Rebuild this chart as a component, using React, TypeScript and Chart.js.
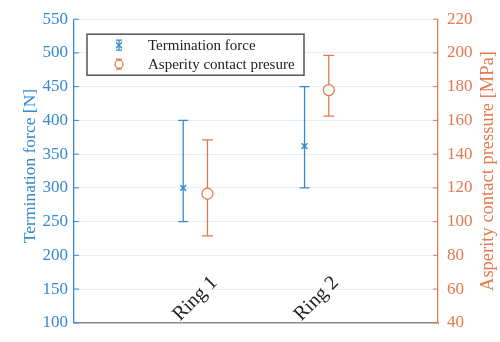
import React, { useEffect, useRef } from "react";
import { Chart, registerables } from "chart.js";

Chart.register(...registerables);

const categories = ["Ring 1", "Ring 2"];
const forceMean = [300, 362];
const forceLow = [250, 300];
const forceHigh = [400, 450];
const pressureMean = [116.5, 178];
const pressureLow = [91.5, 162.5];
const pressureHigh = [148.5, 198.5];

const BLUE = "#3589cf";
const ORANGE = "#e4794f";
const FONT = "'Liberation Serif', 'Times New Roman', serif";

const errorBarPlugin = {
  id: "errorBars",
  afterDatasetsDraw(chart: any) {
    const ctx = chart.ctx;
    chart.data.datasets.forEach((ds: any) => {
      const ys = chart.scales[ds.yAxisID];
      const xs = chart.scales.x;
      ds.data.forEach((pt: any, i: number) => {
        const x = xs.getPixelForValue(pt.x);
        const yl = ys.getPixelForValue(ds.errLow[i]);
        const yh = ys.getPixelForValue(ds.errHigh[i]);
        const yc = ys.getPixelForValue(pt.y);
        const r = ds.capHalf;
        ctx.save();
        ctx.strokeStyle = ds.borderColor;
        ctx.lineWidth = 1.3;
        ctx.beginPath();
        const gap = ds.pointStyle === "circle" ? ds.pointRadius : 0;
        ctx.moveTo(x, yh);
        ctx.lineTo(x, yc - gap);
        ctx.moveTo(x, yc + gap);
        ctx.lineTo(x, yl);
        ctx.moveTo(x - r, yh);
        ctx.lineTo(x + r, yh);
        ctx.moveTo(x - r, yl);
        ctx.lineTo(x + r, yl);
        ctx.stroke();
        ctx.restore();
      });
    });
  },
};

const decorPlugin = {
  id: "decor",
  afterDraw(chart: any) {
    const ctx = chart.ctx;
    const area = chart.chartArea;
    const y = chart.scales.y;
    const y1 = chart.scales.y1;
    const xs = chart.scales.x;
    ctx.save();
    // inward ticks
    ctx.lineWidth = 1;
    ctx.strokeStyle = BLUE;
    y.ticks.forEach((t: any) => {
      const py = y.getPixelForValue(t.value);
      ctx.beginPath();
      ctx.moveTo(area.left, py);
      ctx.lineTo(area.left + 5, py);
      ctx.stroke();
    });
    ctx.strokeStyle = ORANGE;
    y1.ticks.forEach((t: any) => {
      const py = y1.getPixelForValue(t.value);
      ctx.beginPath();
      ctx.moveTo(area.right, py);
      ctx.lineTo(area.right - 5, py);
      ctx.stroke();
    });
    // category labels inside plot
    ctx.fillStyle = "#222";
    ctx.font = `20px ${FONT}`;
    ctx.textAlign = "center";
    ctx.textBaseline = "middle";
    categories.forEach((c, i) => {
      const px = xs.getPixelForValue(i + 1);
      ctx.save();
      ctx.translate(px, area.bottom - 24);
      ctx.rotate(-Math.PI / 4);
      ctx.fillText(c, 0, 0);
      ctx.restore();
    });
    // axis titles
    ctx.font = `17.5px ${FONT}`;
    ctx.fillStyle = BLUE;
    ctx.save();
    ctx.translate(30, (area.top + area.bottom) / 2 - 5);
    ctx.rotate(-Math.PI / 2);
    ctx.fillText("Termination force [N]", 0, 0);
    ctx.restore();
    ctx.font = `18.5px ${FONT}`;
    ctx.fillStyle = ORANGE;
    ctx.save();
    ctx.translate(488, (area.top + area.bottom) / 2);
    ctx.rotate(-Math.PI / 2);
    ctx.fillText("Asperity contact pressure [MPa]", 0, 0);
    ctx.restore();
    // legend
    const bx = area.left + 13;
    const by = area.top + 15;
    const bw = 217;
    const bh = 41;
    ctx.fillStyle = "#fff";
    ctx.fillRect(bx, by, bw, bh);
    ctx.strokeStyle = "#555";
    ctx.lineWidth = 1.5;
    ctx.strokeRect(bx, by, bw, bh);
    ctx.font = `15px ${FONT}`;
    ctx.textAlign = "left";
    ctx.fillStyle = "#222";
    chart.data.datasets.forEach((ds: any, di: number) => {
      const cy = by + 11 + di * 19;
      const sx = bx + 32;
      ctx.strokeStyle = ds.borderColor;
      ctx.lineWidth = 1.3;
      ctx.beginPath();
      ctx.moveTo(sx, cy - 5);
      ctx.lineTo(sx, cy + 5);
      ctx.moveTo(sx - 3, cy - 5);
      ctx.lineTo(sx + 3, cy - 5);
      ctx.moveTo(sx - 3, cy + 5);
      ctx.lineTo(sx + 3, cy + 5);
      ctx.stroke();
      if (ds.pointStyle === "circle") {
        ctx.fillStyle = "#fff";
        ctx.beginPath();
        ctx.arc(sx, cy, 4, 0, Math.PI * 2);
        ctx.fill();
        ctx.stroke();
      } else {
        ctx.beginPath();
        ctx.moveTo(sx - 3, cy - 3);
        ctx.lineTo(sx + 3, cy + 3);
        ctx.moveTo(sx + 3, cy - 3);
        ctx.lineTo(sx - 3, cy + 3);
        ctx.stroke();
      }
      ctx.fillStyle = "#222";
      ctx.fillText(ds.label, bx + 61, cy + 1);
    });
    ctx.restore();
  },
};

export default function App() {
  const ref = useRef<HTMLCanvasElement>(null);
  useEffect(() => {
    if (!ref.current) return;
    const chart = new Chart(ref.current, {
      type: "scatter",
      data: {
        datasets: [
          {
            label: "Termination force",
            data: categories.map((c, i) => ({ x: i + 1 - 0.1, y: forceMean[i] })),
            yAxisID: "y",
            borderColor: BLUE,
            backgroundColor: BLUE,
            pointStyle: "crossRot",
            pointRadius: 4,
            pointBorderWidth: 1.5,
            showLine: false,
            errLow: forceLow,
            errHigh: forceHigh,
            capHalf: 5,
          } as any,
          {
            label: "Asperity contact presure",
            data: categories.map((c, i) => ({ x: i + 1 + 0.1, y: pressureMean[i] })),
            yAxisID: "y1",
            borderColor: ORANGE,
            backgroundColor: "rgba(0,0,0,0)",
            pointStyle: "circle",
            pointRadius: 5.5,
            pointBorderWidth: 1.3,
            showLine: false,
            errLow: pressureLow,
            errHigh: pressureHigh,
            capHalf: 5.5,
          } as any,
        ],
      },
      options: {
        animation: false,
        responsive: false,
        maintainAspectRatio: false,
        layout: { padding: { top: 17, left: 0, right: 0, bottom: 0 } },
        plugins: { legend: { display: false }, tooltip: { enabled: false } },
        scales: {
          x: {
            type: "linear",
            min: 0,
            max: 3,
            ticks: { display: false },
            grid: { display: false, drawTicks: false },
            border: { display: true, color: "#8a8a8a", width: 1.5 },
            afterFit: (s: any) => {
              s.height = 9;
            },
          },
          y: {
            position: "left",
            min: 100,
            max: 550,
            ticks: {
              stepSize: 50,
              color: BLUE,
              padding: 6,
              font: { family: FONT, size: 17 },
            },
            grid: { color: "#e4eef8", lineWidth: 1, drawTicks: false },
            border: { display: true, color: BLUE, width: 1.3 },
            afterFit: (s: any) => {
              s.width = 74;
            },
          },
          y1: {
            position: "right",
            min: 40,
            max: 220,
            ticks: {
              stepSize: 20,
              color: ORANGE,
              padding: 9,
              font: { family: FONT, size: 17 },
            },
            grid: { display: false, drawTicks: false },
            border: { display: true, color: ORANGE, width: 1.3 },
            afterFit: (s: any) => {
              s.width = 62;
            },
          },
        },
      },
      plugins: [errorBarPlugin, decorPlugin],
    });
    return () => chart.destroy();
  }, []);
  return (
    <div style={{ position: "fixed", left: 0, top: 0, width: 500, height: 342, background: "#fff" }}>
      <canvas ref={ref} width={500} height={342} style={{ width: 500, height: 342, display: "block" }} />
    </div>
  );
}
